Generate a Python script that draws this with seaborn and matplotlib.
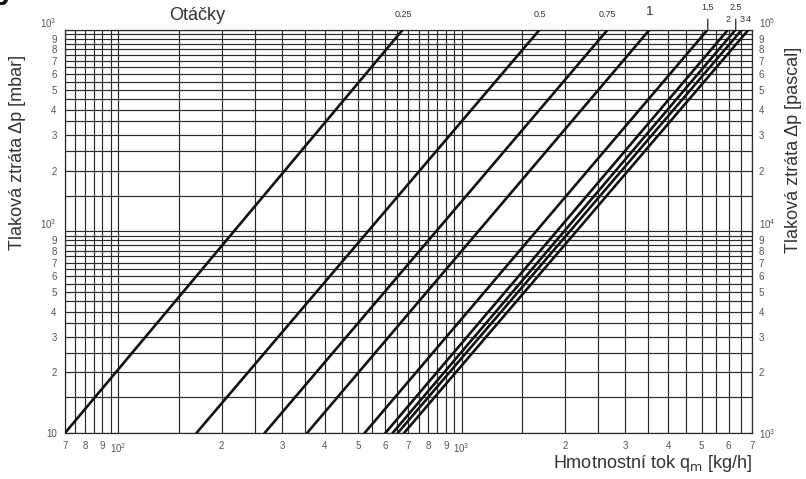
import matplotlib
matplotlib.use("Agg")
import matplotlib.pyplot as plt
import numpy as np
import pandas as pd
import seaborn as sns
from matplotlib.ticker import NullFormatter
from matplotlib.transforms import blended_transform_factory

# ---------------- data ----------------
openings = ['0.25', '0.5', '0.75', '1', '1.5', '2', '2.5', '3', '4']
flow_at_10mbar = [70, 169, 267, 355, 522, 600, 630, 652, 680]          # kg/h at 10 mbar
flow_at_1000mbar = [675, 1690, 2667, 3532, 5214, 5980, 6290, 6560, 6860]  # kg/h at 1000 mbar
dp_ends = [10, 1000]  # mbar

x_label_vals = [70, 80, 90, 100, 200, 300, 400, 500, 600, 700, 800, 900, 1000,
                2000, 3000, 4000, 5000, 6000, 7000]
x_label_txt = ['7', '8', '9', '$10^2$', '2', '3', '4', '5', '6', '7', '8', '9', '$10^3$',
               '2', '3', '4', '5', '6', '7']
x_grid_vals = [70, 75, 80, 85, 90, 95, 100, 150, 200, 250, 300, 350, 400, 450, 500, 550,
               600, 650, 700, 750, 800, 850, 900, 950, 1000, 1500, 2000, 2500, 3000, 3500,
               4000, 4500, 5000, 5500, 6000, 6500, 7000]

y_label_vals = [10, 20, 30, 40, 50, 60, 70, 80, 90, 100, 200, 300, 400, 500, 600, 700,
                800, 900, 1000]
y_left_txt = ['10', '2', '3', '4', '5', '6', '7', '8', '9', '$10^3$', '2', '3', '4', '5',
              '6', '7', '8', '9', '$10^3$']
y_right_vals = [1000, 2000, 3000, 4000, 5000, 6000, 7000, 8000, 9000, 10000, 20000, 30000,
                40000, 50000, 60000, 70000, 80000, 90000, 100000]
y_right_txt = ['$10^3$', '2', '3', '4', '5', '6', '7', '8', '9', '$10^4$', '2', '3', '4',
               '5', '6', '7', '8', '9', '$10^5$']
y_grid_vals = [10, 15, 20, 25, 30, 35, 40, 45, 50, 55, 60, 65, 70, 75, 80, 85, 90, 95,
               100, 150, 200, 250, 300, 350, 400, 450, 500, 550, 600, 650, 700, 750, 800,
               850, 900, 950, 1000]

# ---------------- style ----------------
sns.set_style("white")
plt.rcParams['font.family'] = ['Liberation Sans', 'DejaVu Sans']
plt.rcParams['mathtext.default'] = 'regular'

W, H = 806, 479
fig = plt.figure(figsize=(W / 100, H / 100), dpi=100)
x0, x1, ytop, ybot = 65, 751.7, 29.5, 433
ax = fig.add_axes([x0 / W, (H - ybot) / H, (x1 - x0) / W, (ybot - ytop) / H])

rows = []
for lab, q0, q1 in zip(openings, flow_at_10mbar, flow_at_1000mbar):
    rows.append({'opening': lab, 'q': q0, 'dp': dp_ends[0]})
    rows.append({'opening': lab, 'q': q1, 'dp': dp_ends[1]})
df = pd.DataFrame(rows)

sns.lineplot(data=df, x='q', y='dp', hue='opening', palette=['#111111'] * len(openings),
             estimator=None, sort=False, legend=False, linewidth=1.9, ax=ax, zorder=3)

ax.set_xscale('log')
ax.set_yscale('log')
ax.set_xlim(70, 7000)
ax.set_ylim(10, 1000)

tick_color = '#555555'
ax.set_xticks(x_label_vals)
ax.set_xticklabels(x_label_txt)
ax.set_xticks([v for v in x_grid_vals if v not in x_label_vals], minor=True)
ax.set_yticks(y_label_vals)
ax.set_yticklabels(y_left_txt)
ax.set_yticks([v for v in y_grid_vals if v not in y_label_vals], minor=True)
ax.xaxis.set_minor_formatter(NullFormatter())
ax.yaxis.set_minor_formatter(NullFormatter())
ax.tick_params(which='both', length=0, labelsize=7, colors=tick_color)
ax.tick_params(axis='x', pad=6)
ax.tick_params(axis='y', pad=6)
ax.grid(which='both', color='#2a2a2a', linewidth=0.85)
ax.set_xlabel('')
ax.set_ylabel('')
for s in ax.spines.values():
    s.set_color('#2a2a2a')
    s.set_linewidth(0.9)
for t in ax.get_yticklabels():
    if t.get_text().startswith('$10'):
        t.set_va('bottom')

ax2 = ax.twinx()
ax2.set_yscale('log')
ax2.set_ylim(1000, 100000)
ax2.set_yticks(y_right_vals)
ax2.set_yticklabels(y_right_txt)
ax2.yaxis.set_minor_formatter(NullFormatter())
ax2.tick_params(which='both', length=0, labelsize=7, colors=tick_color, pad=5)
for s in ax2.spines.values():
    s.set_visible(False)
for t in ax2.get_yticklabels():
    if t.get_text() in ('$10^4$', '$10^5$'):
        t.set_va('bottom')

# opening labels above the chart
trans = blended_transform_factory(ax.transData, ax.transAxes)
lab_style = dict(fontsize=6.5, color='#333333', ha='center', va='center',
                 fontstretch='condensed')
offsets = {'0.25': 11, '0.5': 11, '0.75': 11, '1': 12.5, '2': 7.5, '3': 7.5, '4': 7.5}
for lab, q1 in zip(openings, flow_at_1000mbar):
    if lab in ('1.5', '2.5'):
        ax.annotate(lab, xy=(q1, 1.0), xycoords=trans, xytext=(0, 16),
                    textcoords='offset points', annotation_clip=False,
                    arrowprops=dict(arrowstyle='-', color='#222222', lw=0.9,
                                    shrinkA=3, shrinkB=0), **lab_style)
    else:
        size = 9.5 if lab == '1' else 6.5
        st = dict(lab_style)
        st['fontsize'] = size
        ax.annotate(lab, xy=(q1, 1.0), xycoords=trans, xytext=(0, offsets[lab]),
                    textcoords='offset points', annotation_clip=False, **st)

fig.text(197 / W, 1 - 15 / H, 'Otáčky', fontsize=13, color='#333333',
         ha='center', va='center')
fig.text(18 / W, 1 - 152 / H, 'Tlaková ztráta Δp [mbar]', rotation=90, fontsize=13,
         color='#333333', ha='center', va='center')
fig.text(793 / W, 1 - 150 / H, 'Tlaková ztráta Δp [pascal]', rotation=90, fontsize=13,
         color='#333333', ha='center', va='center')
fig.text(752 / W, 1 - 464 / H, 'Hmotnostní tok q$_\\mathsf{m}$ [kg/h]', fontsize=13,
         color='#333333', ha='right', va='center')
fig.text(-2 / W, 1 + 2 / H, 'y', fontsize=22, fontweight='bold', color='#111111',
         ha='left', va='baseline')

fig.savefig('out.png', dpi=100)
